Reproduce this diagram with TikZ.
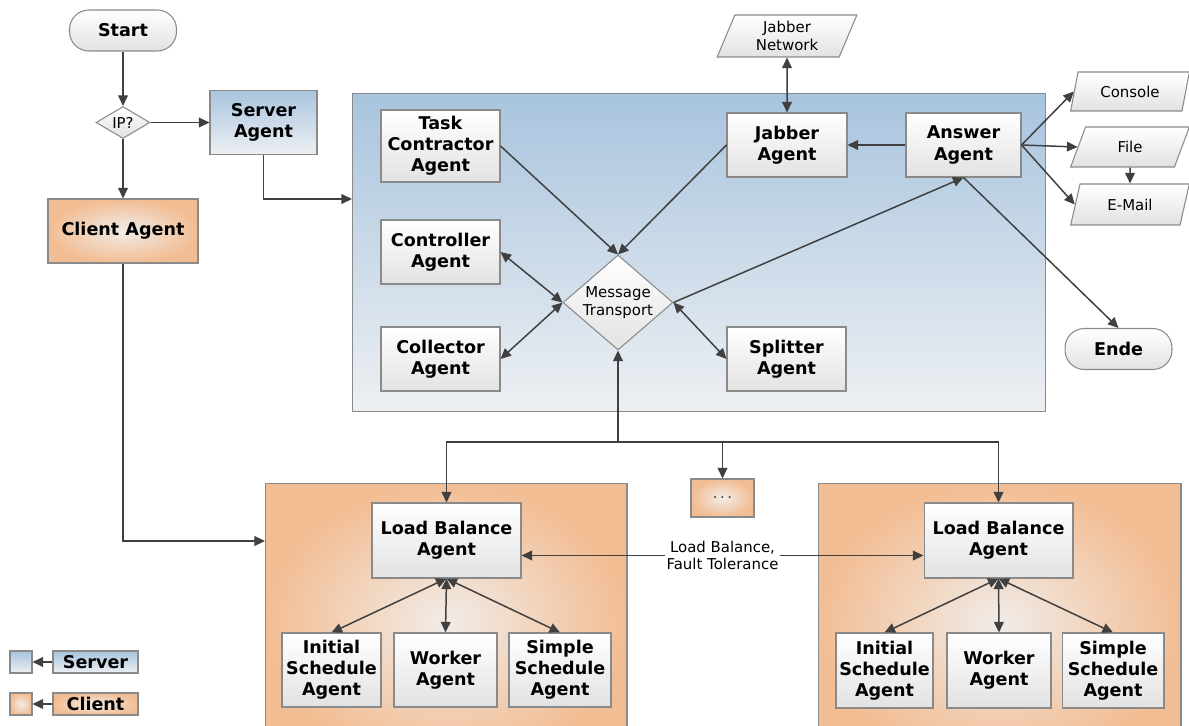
\documentclass[tikz,border=0pt]{standalone}
\usepackage{fontspec}
\setmainfont{DejaVu Sans}
\usetikzlibrary{shapes.geometric,arrows.meta}

\definecolor{linegray}{HTML}{404040}
\definecolor{framegray}{HTML}{8A8A8A}
\definecolor{srvtop}{HTML}{A8C4DE}
\definecolor{srvbot}{HTML}{EEF0F3}
\definecolor{cliout}{HTML}{F2BD93}
\definecolor{cliin}{HTML}{F1ECE8}
\definecolor{boxbot}{HTML}{E2E2E2}

\tikzset{
  agent/.style={draw=framegray, line width=0.6pt, top color=white, bottom color=boxbot,
    align=center, inner sep=1pt, font=\fontsize{10}{12}\selectfont\bfseries},
  terminal/.style={agent, rounded corners=11pt},
  decision/.style={diamond, draw=framegray, line width=0.6pt, top color=white,
    bottom color=boxbot, align=center, inner sep=0pt, font=\fontsize{8.5}{10}\selectfont},
  io/.style={trapezium, trapezium left angle=70, trapezium right angle=110,
    trapezium stretches=true, draw=framegray, line width=0.6pt, top color=white,
    bottom color=boxbot, align=center, inner sep=0pt, font=\fontsize{8.5}{10}\selectfont},
  serverfill/.style={draw=framegray, line width=0.6pt, top color=srvtop, bottom color=srvbot},
  clientfill/.style={draw=framegray, line width=0.6pt, inner color=cliin, outer color=cliout},
  conn/.style={draw=linegray, line width=0.85pt, -{Triangle[length=6pt,width=5.5pt]}},
  biconn/.style={conn, {Triangle[length=6pt,width=5.5pt]}-{Triangle[length=6pt,width=5.5pt]}},
  smalltext/.style={font=\fontsize{8.5}{10}\selectfont}
}

\begin{document}
\begin{tikzpicture}[x=0.02cm,y=-0.02cm]
  \useasboundingbox (0,0) rectangle (1189,726);
  % containers
  \node[serverfill, minimum width=13.88cm, minimum height=6.38cm] (srv) at (699,252.5) {};
  \node[clientfill, minimum width=7.24cm, minimum height=5.6cm] (cl1) at (446,623) {};
  \node[clientfill, minimum width=7.26cm, minimum height=5.6cm] (cl2) at (999.5,623) {};
  % start and decision
  \node[terminal, minimum width=2.14cm, minimum height=0.82cm] (start) at (123,30.5) {Start};
  \node[decision, aspect=1.7, minimum width=1.08cm, minimum height=0.64cm] (ip) at (123,122.5) {IP?};
  \node[agent, serverfill, minimum width=2.14cm, minimum height=1.28cm] (sa) at (263.5,122.5) {Server\\Agent};
  \node[agent, clientfill, minimum width=3cm, minimum height=1.28cm] (ca) at (123,231) {Client Agent};
  % server agents
  \node[agent, minimum width=2.38cm, minimum height=1.44cm] (tc) at (440.5,146) {Task\\Contractor\\Agent};
  \node[agent, minimum width=2.38cm, minimum height=1.28cm] (ctrl) at (440.5,252) {Controller\\Agent};
  \node[agent, minimum width=2.38cm, minimum height=1.28cm] (coll) at (440.5,359) {Collector\\Agent};
  \node[decision, aspect=1.16, minimum width=2.2cm, minimum height=1.9cm] (mt) at (618,302.5) {Message\\Transport};
  \node[agent, minimum width=2.38cm, minimum height=1.28cm] (spl) at (786.5,359) {Splitter\\Agent};
  \node[agent, minimum width=2.4cm, minimum height=1.28cm] (ja) at (787,145) {Jabber\\Agent};
  \node[agent, minimum width=2.3cm, minimum height=1.28cm] (aa) at (963.5,145) {Answer\\Agent};
  \node[io, minimum width=2.8cm, minimum height=0.84cm] (jn) at (787,36) {Jabber\\Network};
  \node[io, minimum width=2.38cm, minimum height=0.78cm] (con) at (1130,91.5) {Console};
  \node[io, minimum width=2.38cm, minimum height=0.8cm] (file) at (1130,147) {File};
  \node[io, minimum width=2.38cm, minimum height=0.82cm] (mail) at (1130,204.5) {E-Mail};
  \node[terminal, minimum width=2.14cm, minimum height=0.82cm] (ende) at (1118.5,349) {Ende};
  % client agents
  \node[clientfill, smalltext, text=linegray, minimum width=1.26cm, minimum height=0.76cm] (dots) at (722.5,498) {.\,.\,.};
  \node[agent, minimum width=2.98cm, minimum height=1.5cm] (lb1) at (446.5,540.5) {Load Balance\\Agent};
  \node[agent, minimum width=1.98cm, minimum height=1.48cm] (is1) at (331.5,670) {Initial\\Schedule\\Agent};
  \node[agent, minimum width=2.06cm, minimum height=1.48cm] (wk1) at (445.5,670) {Worker\\Agent};
  \node[agent, minimum width=2.04cm, minimum height=1.48cm] (ss1) at (560,670) {Simple\\Schedule\\Agent};
  \node[agent, minimum width=2.98cm, minimum height=1.5cm] (lb2) at (998.5,540.5) {Load Balance\\Agent};
  \node[agent, minimum width=1.94cm, minimum height=1.5cm] (is2) at (884.5,670.5) {Initial\\Schedule\\Agent};
  \node[agent, minimum width=2.08cm, minimum height=1.5cm] (wk2) at (999,670.5) {Worker\\Agent};
  \node[agent, minimum width=2.04cm, minimum height=1.5cm] (ss2) at (1113,670.5) {Simple\\Schedule\\Agent};
  % legend
  \node[serverfill, minimum size=0.44cm, inner sep=0pt] (srvsq) at (21,662) {};
  \node[agent, serverfill, minimum width=1.7cm, minimum height=0.44cm, inner sep=0pt] (srvlab) at (95.5,662) {Server};
  \node[clientfill, minimum size=0.44cm, inner sep=0pt] (clisq) at (21,704) {};
  \node[agent, clientfill, minimum width=1.7cm, minimum height=0.44cm, inner sep=0pt] (clilab) at (95.5,704) {Client};
  % connectors
  \coordinate (srvin) at (352,199);
  \coordinate (cl1in) at (265,541);
  \coordinate (bus) at (618,442);
  \draw[conn] (start.south) -- (ip.north);
  \draw[conn] (ip.east) -- (sa.west);
  \draw[conn] (ip.south) -- (ca.north);
  \draw[conn] (sa.south) |- (srvin);
  \draw[conn] (ca.south) |- (cl1in);
  \draw[conn] (tc.east) -- (mt.north);
  \draw[conn] (ja.west) -- (mt.north);
  \draw[biconn] (ctrl.east) -- (mt.west);
  \draw[biconn] (coll.east) -- (mt.west);
  \draw[biconn] (mt.east) -- (spl.west);
  \draw[conn] (mt.east) -- (aa.south);
  \draw[conn] (aa.west) -- (ja.east);
  \draw[biconn] (jn.south) -- (ja.north);
  \draw[conn] (aa.east) -- (con.west);
  \draw[conn] (aa.east) -- (file.west);
  \draw[conn] (aa.east) -- (mail.west);
  \draw[conn] (file.south) -- (mail.north);
  \draw[conn] (aa.south) -- (ende.north);
  \draw[conn] (bus) -- (mt.south);
  \draw[conn] (bus) -| (lb1.north);
  \draw[conn] (bus) -| (lb2.north);
  \draw[conn] (bus) -| (dots.north);
  \draw[biconn] ([yshift=-0.3cm]lb1.east) -- node[fill=white, inner sep=1pt, align=center, smalltext]
    {Load Balance,\\Fault Tolerance} ([yshift=-0.3cm]lb2.west);
  \draw[biconn] (lb1.south) -- (is1.north);
  \draw[biconn] (lb1.south) -- (wk1.north);
  \draw[biconn] (lb1.south) -- (ss1.north);
  \draw[biconn] (lb2.south) -- (is2.north);
  \draw[biconn] (lb2.south) -- (wk2.north);
  \draw[biconn] (lb2.south) -- (ss2.north);
  \draw[conn] (srvlab.west) -- (srvsq.east);
  \draw[conn] (clilab.west) -- (clisq.east);
\end{tikzpicture}
\end{document}
